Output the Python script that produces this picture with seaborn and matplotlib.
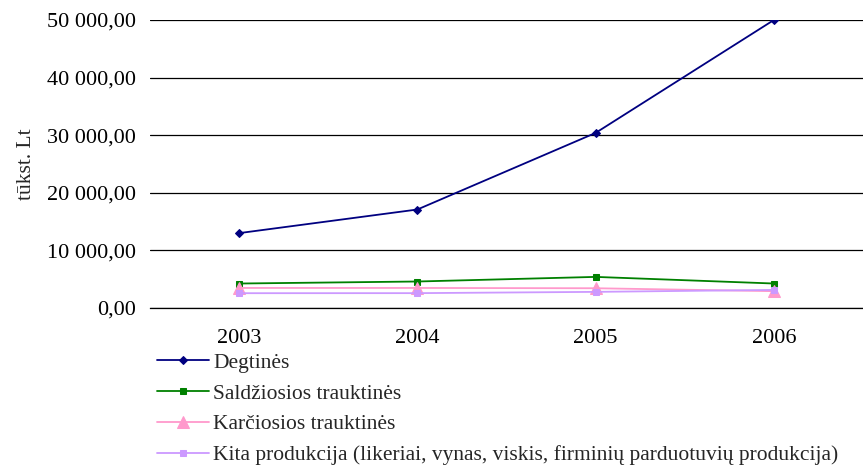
import pandas as pd
import matplotlib.pyplot as plt
import matplotlib.ticker as mticker
import seaborn as sns

years = ["2003", "2004", "2005", "2006"]
degtines = [13000, 17100, 30400, 50000]
saldziosios = [4250, 4600, 5400, 4250]
karciosios = [3480, 3480, 3430, 2920]
kita = [2570, 2580, 2800, 3140]

series_names = [
    "Degtinės",
    "Saldžiosios trauktinės",
    "Karčiosios trauktinės",
    "Kita produkcija (likeriai, vynas, viskis, firminių parduotuvių produkcija)",
]
series_values = [degtines, saldziosios, karciosios, kita]
colors = ["#000080", "#008000", "#FF99CC", "#CC99FF"]
markers = ["D", "s", "^", "s"]
marker_sizes = [4.5, 5, 9, 5]

sns.set_theme(style="white")
plt.rcParams["font.family"] = ["Liberation Serif", "DejaVu Serif"]

rows = []
for name, vals in zip(series_names, series_values):
    for i, v in enumerate(vals):
        rows.append({"series": name, "pos": i, "value": v})
df = pd.DataFrame(rows)

fig = plt.figure(figsize=(8.63, 4.66), dpi=100)
ax = fig.add_axes([150 / 863, 1 - 308 / 466, 1 - 150 / 863, (308 - 20) / 466])

for name, color, mk, ms in zip(series_names, colors, markers, marker_sizes):
    sub = df[df["series"] == name]
    sns.lineplot(data=sub, x="pos", y="value", ax=ax, color=color, marker=mk,
                 markersize=ms, markeredgecolor=color, linewidth=1.3, label=name,
                 zorder=3)

ax.set_xlim(-0.5, 3.5)
ax.set_ylim(0, 50000)
ax.set_xticks(range(len(years)))
ax.set_xticklabels(years)
ax.set_yticks(range(0, 50001, 10000))
ax.yaxis.set_major_formatter(mticker.FuncFormatter(
    lambda v, p: f"{v:,.2f}".replace(",", " ").replace(".", ",")))
ax.tick_params(axis="both", labelsize=16, length=0, colors="black")
ax.tick_params(axis="x", pad=15)
ax.tick_params(axis="y", pad=10)
ax.grid(axis="y", color="black", linewidth=0.9)
ax.set_axisbelow(True)
for s in ax.spines.values():
    s.set_visible(False)
ax.spines["bottom"].set_visible(True)
ax.spines["bottom"].set_color("black")
ax.spines["bottom"].set_linewidth(0.9)
ax.set_xlabel("")
ax.set_ylabel("tūkst. Lt", fontsize=15.5, labelpad=8)

ax.legend(loc="upper left", bbox_to_anchor=(0.01, -0.155), frameon=False,
          fontsize=15.5, handlelength=2.4, handletextpad=0.2, labelspacing=0.5,
          borderaxespad=0, borderpad=0)

fig.savefig("out.png", dpi=100)
